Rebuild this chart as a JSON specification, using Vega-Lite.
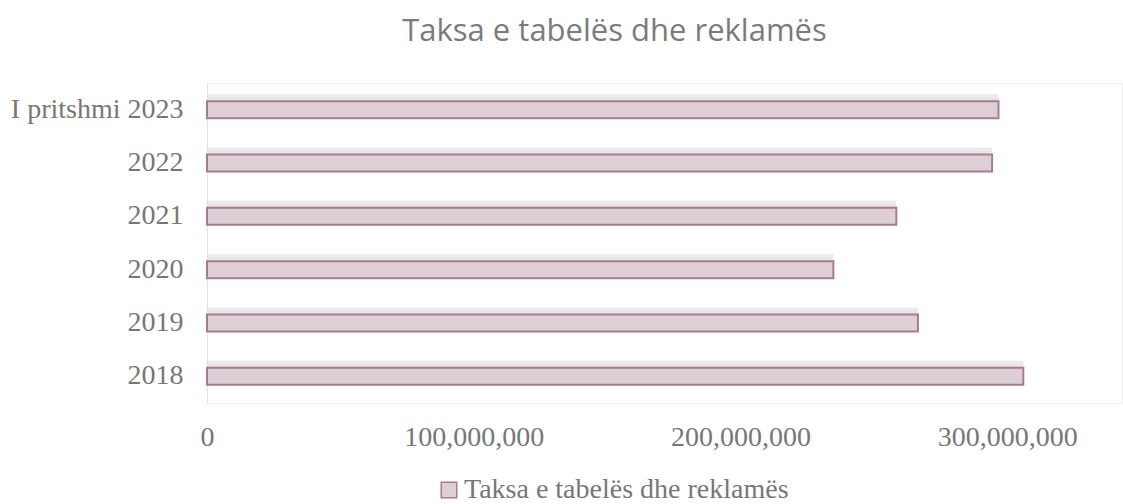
{
  "$schema": "https://vega.github.io/schema/vega-lite/v6.json",
  "width": 915,
  "height": 320,
  "autosize": {"type": "none"},
  "padding": {"left": 207, "top": 83, "right": 1, "bottom": 101},
  "background": "white",
  "config": {"view": {"stroke": "#efefef"}},
  "title": {
    "text": "Taksa e tabelës dhe reklamës",
    "font": "Open Sans",
    "fontWeight": 400,
    "fontSize": 31,
    "color": "#7b7b7b",
    "anchor": "middle",
    "dx": -50,
    "offset": 35
  },
  "data": {
    "values": [
      {"viti": "I pritshmi 2023", "vlera": 296700000, "seria": "Taksa e tabelës dhe reklamës"},
      {"viti": "2022", "vlera": 294300000, "seria": "Taksa e tabelës dhe reklamës"},
      {"viti": "2021", "vlera": 258400000, "seria": "Taksa e tabelës dhe reklamës"},
      {"viti": "2020", "vlera": 234800000, "seria": "Taksa e tabelës dhe reklamës"},
      {"viti": "2019", "vlera": 266500000, "seria": "Taksa e tabelës dhe reklamës"},
      {"viti": "2018", "vlera": 306000000, "seria": "Taksa e tabelës dhe reklamës"}
    ]
  },
  "encoding": {
    "y": {
      "field": "viti",
      "type": "nominal",
      "sort": null,
      "scale": {"paddingInner": 0.68, "paddingOuter": 0.34},
      "axis": {
        "title": null,
        "ticks": false,
        "domain": true,
        "domainColor": "#e3e3e3",
        "labelFont": "Liberation Serif",
        "labelFontSize": 28,
        "labelColor": "#777777",
        "labelPadding": 24
      }
    },
    "x": {
      "field": "vlera",
      "type": "quantitative",
      "scale": {"domain": [0, 343000000], "nice": false},
      "axis": {
        "title": null,
        "values": [0, 100000000, 200000000, 300000000],
        "format": ",d",
        "grid": false,
        "ticks": false,
        "domain": false,
        "labelFlush": false,
        "labelFont": "Liberation Serif",
        "labelFontSize": 28,
        "labelColor": "#777777",
        "labelPadding": 20
      }
    }
  },
  "layer": [
    {
      "mark": {"type": "bar", "color": "#dddddd", "opacity": 0.55, "yOffset": -4, "x2Offset": 6, "size": 23},
      "encoding": {}
    },
    {
      "mark": {"type": "bar", "color": "#e6e6e6", "opacity": 0.7, "yOffset": -3, "x2Offset": 3, "size": 19},
      "encoding": {}
    },
    {
      "mark": {"type": "bar", "size": 17, "stroke": "#a97b93", "strokeWidth": 2, "fill": "#dccfd6"},
      "encoding": {
        "fill": {
          "field": "seria",
          "type": "nominal",
          "scale": {"range": ["#dccfd6"]},
          "legend": {
            "title": null,
            "orient": "none",
            "legendX": 228,
            "legendY": 393,
            "symbolType": "square",
            "symbolSize": 240,
            "symbolStrokeColor": "#a97b93",
            "symbolStrokeWidth": 1.5,
            "symbolFillColor": "#e8dfe4",
            "labelFont": "Liberation Serif",
            "labelFontSize": 28,
            "labelColor": "#777777",
            "labelLimit": 600,
            "labelOffset": 1
          }
        }
      }
    }
  ]
}
